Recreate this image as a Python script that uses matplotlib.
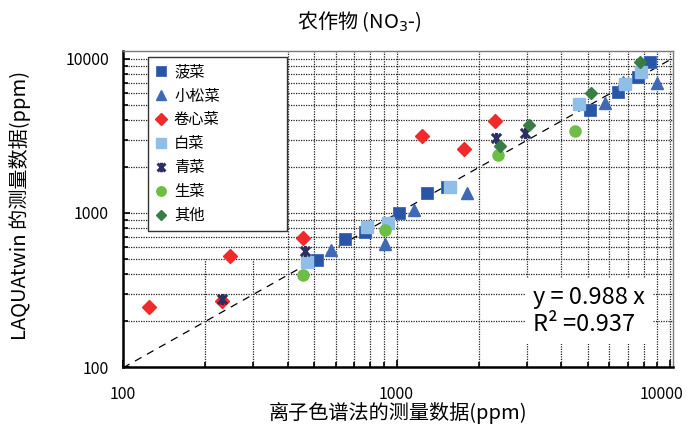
import matplotlib
matplotlib.use('Agg')
import matplotlib.pyplot as plt
from matplotlib.path import Path
from matplotlib.ticker import NullFormatter
from matplotlib.transforms import ScaledTranslation
import numpy as np

plt.rcParams['font.family'] = ['Noto Sans CJK SC', 'DejaVu Sans']

# data (ppm): ion chromatography (x) vs LAQUAtwin (y)
names = ['菠菜', '小松菜', '卷心菜', '白菜', '青菜', '生菜', '其他']

spinach_x = [512, 647, 767, 1021, 1294, 1530, 5094, 6476, 7640, 8433]
spinach_y = [495, 675, 756, 995, 1355, 1483, 4665, 6081, 7674, 9614]
komatsuna_x = [578, 906, 1159, 1803, 5781, 6749, 8977]
komatsuna_y = [575, 630, 1045, 1355, 5155, 7128, 6950]
cabbage_x = [124, 230, 247, 457, 1236, 1772, 2297]
cabbage_y = [244, 268, 528, 692, 3162, 2606, 3972]
hakusai_x = [471, 783, 931, 1563, 4659, 6873, 7852]
hakusai_y = [479, 814, 865, 1483, 5107, 6855, 8200]
greens_x = [231, 463, 2307, 2938]
greens_y = [277, 566, 3083, 3296]
lettuce_x = [454, 906, 2350, 4498]
lettuce_y = [394, 776, 2382, 3404]
other_x = [2382, 3055, 5140, 7796]
other_y = [2735, 3725, 5984, 9614]

slope = 0.988
r2 = 0.937

# excel style star: X with a vertical bar
star = Path([(-1, -1), (1, 1), (-1, 1), (1, -1), (0, -1.2), (0, 1.2)],
            [Path.MOVETO, Path.LINETO, Path.MOVETO, Path.LINETO, Path.MOVETO, Path.LINETO])

fig = plt.figure(figsize=(6.89, 4.28), dpi=100)
ax = fig.add_axes([123 / 689, 1 - 367 / 428, 550 / 689, 316 / 428])
ax.set_xscale('log')
ax.set_yscale('log')
xmax, ymax = 10255, 11270
ax.set_xlim(100, xmax)
ax.set_ylim(100, ymax)

# grid
ax.yaxis.grid(True, which='both', color='#222222', linestyle=(0, (1, 1)), linewidth=0.9, zorder=0.5)
ax.set_axisbelow(True)
grid_x = np.concatenate([np.arange(4, 10) * 100, np.arange(1, 10) * 1000, [10000]])
ax.vlines(grid_x, 100, ymax, color='#222222', linestyle=(0, (1, 1)), linewidth=0.9, zorder=0.5)
ax.vlines([200, 300], 100, 500, color='#222222', linestyle=(0, (1, 1)), linewidth=0.9, zorder=0.5)

# fit line
fit_x = np.array([100, 10000])
ax.plot(fit_x, slope * fit_x, color='black', linestyle=(0, (6, 5)), linewidth=0.9, zorder=1)

ax.plot(spinach_x, spinach_y, 's', ms=8, color='#2955A6', mec='#3D66B3', mew=0.6, label=names[0], zorder=2)
ax.plot(komatsuna_x, komatsuna_y, '^', ms=8.5, color='#3F69B5', mec='#3F69B5', label=names[1], zorder=2)
ax.plot(cabbage_x, cabbage_y, 'D', ms=7.6, color='#EE2A2A', mec='#EE2A2A', label=names[2], zorder=2)
ax.plot(hakusai_x, hakusai_y, 's', ms=8, color='#8FBFE8', mec='#8FBFE8', label=names[3], zorder=2)
ax.plot(greens_x, greens_y, linestyle='none', marker=star, ms=8, mfc='none', mec='#2D2F5F', mew=2.2,
        label=names[4], zorder=2)
ax.plot(lettuce_x, lettuce_y, 'o', ms=8, color='#6DBE45', mec='#6DBE45', label=names[5], zorder=2)
ax.plot(other_x, other_y, 'D', ms=6.2, color='#3A7D44', mec='#3A7D44', label=names[6], zorder=2)

ax.set_xticks([100, 1000, 10000])
ax.set_xticklabels(['100', '1000', '10000'])
ax.set_yticks([100, 1000, 10000])
ax.set_yticklabels(['100', '1000', '10000'])
ax.xaxis.set_minor_formatter(NullFormatter())
ax.yaxis.set_minor_formatter(NullFormatter())
ax.tick_params(which='both', direction='in', colors='black', labelsize=11.5, width=1.2)
ax.tick_params(which='major', length=5)
ax.tick_params(which='minor', length=3.5)
ax.tick_params(axis='x', which='both', pad=14)
ax.tick_params(axis='y', which='both', pad=10)
# last x label sits a little left, as in the reference
last = ax.get_xticklabels()[-1]
last.set_transform(last.get_transform() + ScaledTranslation(-6 / 72, 0, fig.dpi_scale_trans))

for side in ['left', 'bottom']:
    ax.spines[side].set_linewidth(1.8)
    ax.spines[side].set_color('black')
for side in ['top', 'right']:
    ax.spines[side].set_linewidth(1.0)
    ax.spines[side].set_color('#7a7a7a')

leg = ax.legend(loc='upper left', bbox_to_anchor=(25 / 550, (367 - 60) / 316, 139 / 550, 0.01),
                mode='expand', fontsize=11, frameon=True, fancybox=False, framealpha=1,
                edgecolor='#333333', labelspacing=0.45, handlelength=0.8, handletextpad=0.45,
                borderpad=0.45, borderaxespad=0, markerscale=0.85)
leg.get_frame().set_linewidth(1.0)
leg.set_zorder(5)

fig.text(533 / 689, 1 - 311 / 428, f'y = {slope} x\nR² ={r2}', fontsize=17, ha='left', va='center',
         linespacing=1.22, zorder=4,
         bbox=dict(boxstyle='square,pad=0.35', facecolor='white', edgecolor='none'))

fig.text(359 / 689, 1 - 22 / 428, '农作物 (NO$_3$-)', fontsize=14.5, ha='center', va='center')
fig.text(398 / 689, 1 - 413 / 428, '离子色谱法的测量数据(ppm)', fontsize=14.5, ha='center', va='center')
fig.text(20 / 689, 1 - 205 / 428, 'LAQUAtwin 的测量数据(ppm)', fontsize=14.5, ha='center', va='center',
         rotation=90)

fig.savefig('out.png', dpi=100)
